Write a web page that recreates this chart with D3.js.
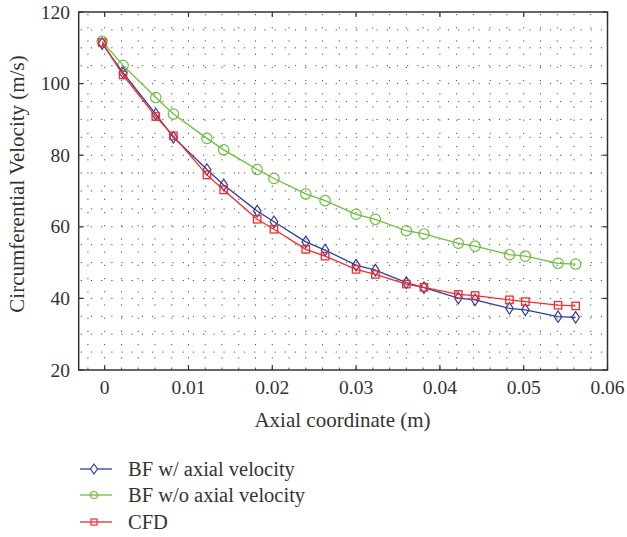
<!DOCTYPE html>
<html><head><meta charset="utf-8">
<script src="https://cdn.jsdelivr.net/npm/d3@7"></script>
<style>
body{margin:0;background:#fff;}
text{font-family:"Liberation Serif","DejaVu Serif",serif;fill:#333;}
</style></head>
<body><svg id="c" width="627" height="537"></svg>
<script>
const xValues = [-0.0003, 0.0022, 0.0061, 0.0082, 0.0122, 0.0142, 0.0182, 0.0202, 0.0240, 0.0263, 0.0300, 0.0323, 0.0360, 0.0381, 0.0422, 0.0442, 0.0483, 0.0502, 0.0541, 0.0562];
const bfWith = [111.2, 103.0, 91.5, 85.0, 76.0, 71.7, 64.4, 61.4, 55.8, 53.5, 49.3, 47.9, 44.4, 43.0, 40.1, 39.6, 37.2, 36.8, 34.9, 34.7];
const bfWithout = [111.8, 105.1, 96.1, 91.5, 84.7, 81.5, 76.0, 73.5, 69.2, 67.3, 63.5, 62.1, 58.9, 58.0, 55.4, 54.6, 52.2, 51.8, 49.8, 49.6];
const cfd = [111.5, 102.4, 90.8, 85.4, 74.5, 70.3, 62.1, 59.3, 53.7, 51.8, 48.1, 46.7, 44.0, 43.1, 41.1, 40.8, 39.6, 39.1, 38.1, 37.9];
const seriesNames = ["BF w/ axial velocity", "BF w/o axial velocity", "CFD"];
const xTicks = [0, 0.01, 0.02, 0.03, 0.04, 0.05, 0.06];
const xTickLabels = ["0", "0.01", "0.02", "0.03", "0.04", "0.05", "0.06"];
const yTicks = [20, 40, 60, 80, 100, 120];
const xLabel = "Axial coordinate (m)";
const yLabel = "Circumferential Velocity (m/s)";

const svg = d3.select("#c");
const L = 78.7, R = 607.5, T = 12, B = 370;
const x = d3.scaleLinear().domain([-0.0031, 0.06]).range([L, R]);
const y = d3.scaleLinear().domain([20, 120]).range([B, T]);

// dotted grid
const g = svg.append("g");
const hGrid = d3.range(25, 120, 5);
g.selectAll(".hg").data(hGrid).join("line")
  .attr("x1", L+2).attr("x2", R-2).attr("y1", d=>y(d)).attr("y2", d=>y(d))
  .attr("stroke", "#222").attr("stroke-width", 1).attr("stroke-dasharray", "1.2,9").attr("opacity", 0.8);
const vGrid = d3.range(-2, 59, 2).map(d=>d/1000);
g.selectAll(".vg").data(vGrid).join("line")
  .attr("y1", T+2).attr("y2", B-2).attr("x1", d=>x(d)).attr("x2", d=>x(d))
  .attr("stroke", "#222").attr("stroke-width", 1).attr("stroke-dasharray", "1.2,12").attr("opacity", 0.8);

// frame
svg.append("rect").attr("x", L).attr("y", T).attr("width", R-L).attr("height", B-T)
  .attr("fill", "none").attr("stroke", "#333").attr("stroke-width", 1.5);

// ticks
const ax = svg.append("g").attr("stroke", "#333").attr("stroke-width", 1.2);
xTicks.forEach(t => {
  ax.append("line").attr("x1", x(t)).attr("x2", x(t)).attr("y1", B).attr("y2", B-5);
  ax.append("line").attr("x1", x(t)).attr("x2", x(t)).attr("y1", T).attr("y2", T+5);
});
d3.range(-2, 60, 2).map(d=>d/1000).forEach(t => {
  ax.append("line").attr("x1", x(t)).attr("x2", x(t)).attr("y1", B).attr("y2", B-2.5).attr("stroke-width", 0.8);
});
yTicks.forEach(t => {
  ax.append("line").attr("x1", L).attr("x2", L+5).attr("y1", y(t)).attr("y2", y(t));
  ax.append("line").attr("x1", R).attr("x2", R-5).attr("y1", y(t)).attr("y2", y(t));
});

// tick labels
svg.selectAll(".xt").data(xTicks).join("text")
  .attr("x", d=>x(d)).attr("y", 394).attr("text-anchor", "middle")
  .attr("font-size", 19.5).text((d,i)=>xTickLabels[i]);
svg.selectAll(".yt").data(yTicks).join("text")
  .attr("x", 70).attr("y", d=>y(d)+6.5).attr("text-anchor", "end")
  .attr("font-size", 19.5).text(d=>d);

svg.append("text").attr("x", 342.5).attr("y", 427).attr("text-anchor", "middle")
  .attr("font-size", 21).text(xLabel);
svg.append("text").attr("transform", `translate(24,184) rotate(-90)`)
  .attr("text-anchor", "middle").attr("font-size", 21).text(yLabel);

const colors = ["#2e3f9e", "#6abf3a", "#f52a2a"];
const data = [bfWith, bfWithout, cfd];
const line = d3.line().x((d,i)=>x(xValues[i])).y(d=>y(d));

function marker(sel, k, cx, cy) {
  if (k === 0) {
    sel.append("path").attr("d", `M${cx},${cy-5.8}L${cx+3.8},${cy}L${cx},${cy+5.8}L${cx-3.8},${cy}Z`)
      .attr("fill", "none").attr("stroke", colors[k]).attr("stroke-width", 1.2);
  } else if (k === 1) {
    sel.append("circle").attr("cx", cx).attr("cy", cy).attr("r", 5.2)
      .attr("fill", "none").attr("stroke", colors[k]).attr("stroke-width", 1.2);
  } else {
    sel.append("rect").attr("x", cx-3.7).attr("y", cy-3.7).attr("width", 7.4).attr("height", 7.4)
      .attr("fill", "none").attr("stroke", colors[k]).attr("stroke-width", 1.3);
  }
}

[1, 0, 2].forEach(k => {
  const s = svg.append("g");
  s.append("path").datum(data[k]).attr("d", line).attr("fill", "none")
    .attr("stroke", colors[k]).attr("stroke-width", 1.3);
  data[k].forEach((v,i) => marker(s, k, x(xValues[i]), y(v)));
});

// legend
const legY = [469, 495, 522];
seriesNames.forEach((n,k) => {
  const lg = svg.append("g");
  lg.append("line").attr("x1", 80).attr("x2", 112).attr("y1", legY[k]).attr("y2", legY[k])
    .attr("stroke", colors[k]).attr("stroke-width", 1.3);
  if (k === 0) lg.append("path").attr("d", `M94,${legY[k]-5}L97.5,${legY[k]}L94,${legY[k]+5}L90.5,${legY[k]}Z`).attr("fill","#fff").attr("stroke", colors[k]).attr("stroke-width",1.2);
  if (k === 1) lg.append("circle").attr("cx", 94).attr("cy", legY[k]).attr("r", 3.5).attr("fill","none").attr("stroke", colors[k]).attr("stroke-width",1.2);
  if (k === 2) lg.append("rect").attr("x", 91).attr("y", legY[k]-3).attr("width", 6).attr("height", 6).attr("fill","none").attr("stroke", colors[k]).attr("stroke-width",1.2);
  lg.append("text").attr("x", 128).attr("y", legY[k]+7).attr("font-size", 20.5).text(n);
});
</script></body></html>
